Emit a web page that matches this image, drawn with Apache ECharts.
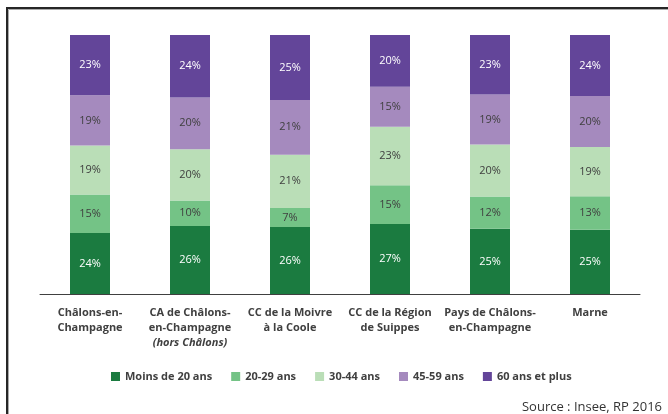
<!DOCTYPE html>
<html lang="fr">
<head>
    <meta charset="UTF-8">
    <title>Structure par âge</title>
    <style type="text/css">
        html, body { margin: 0; padding: 0; background: #fff; }
        #chart { width: 668px; height: 414px; }
    </style>
</head>
<body>
<div id="chart"></div>
<script src="https://cdn.jsdelivr.net/npm/echarts@6/dist/echarts.min.js"></script>
<script type="text/javascript">
    // territoires
    var territoires = ['Châlons-en-\nChampagne', 'CA de Châlons-\nen-Champagne\n{i|(hors Châlons)}', 'CC de la Moivre\nà la Coole',
        'CC de la Région\nde Suippes', 'Pays de Châlons-\nen-Champagne', 'Marne'];
    var tranches = ['Moins de 20 ans', '20-29 ans', '30-44 ans', '45-59 ans', '60 ans et plus'];
    var couleurs = ['#1b7b40', '#74c386', '#badeb7', '#a58abe', '#634599'];

    // parts en %
    var moins20 = [23.6, 26.3, 25.9, 27.0, 25.2, 24.8];
    var de20a29 = [14.8, 9.8, 7.3, 15.0, 12.4, 12.9];
    var de30a44 = [18.9, 19.8, 20.6, 22.6, 20.1, 19.1];
    var de45a59 = [19.4, 20.0, 21.1, 15.4, 19.3, 19.6];
    var plus60 = [23.3, 24.1, 25.1, 20.0, 23.0, 23.6];
    var valeurs = [moins20, de20a29, de30a44, de45a59, plus60];

    var chart = echarts.init(document.getElementById('chart'));

    var series = [];
    for (var i = 0; i < tranches.length; i++) {
        series.push({
            name: tranches[i],
            type: 'bar',
            stack: 'total',
            barWidth: 40,
            itemStyle: { color: couleurs[i] },
            label: {
                show: true,
                position: 'inside',
                fontFamily: 'Open Sans',
                fontSize: 11,
                color: (i === 0 || i === 4) ? '#ffffff' : '#404040',
                formatter: function (p) { return Math.round(p.value) + '%'; }
            },
            data: valeurs[i]
        });
    }

    chart.setOption({
        animation: false,
        grid: { left: 40, right: 28, top: 35, bottom: 120 },
        legend: {
            left: 106,
            top: 366,
            icon: 'rect',
            itemWidth: 9,
            itemHeight: 9,
            itemGap: 19,
            textStyle: { fontFamily: 'Open Sans', fontSize: 11, fontWeight: 'bold', color: '#404040' },
            data: tranches
        },
        xAxis: {
            type: 'category',
            data: territoires,
            axisLine: { lineStyle: { color: '#404040', width: 1 } },
            axisTick: { show: false },
            axisLabel: {
                interval: 0,
                margin: 11,
                fontFamily: 'Open Sans',
                fontSize: 11,
                fontWeight: 'bold',
                lineHeight: 15,
                color: '#404040',
                rich: {
                    i: { fontStyle: 'italic', fontWeight: 'bold', fontFamily: 'Open Sans', fontSize: 11, lineHeight: 16, color: '#404040' }
                }
            }
        },
        yAxis: {
            type: 'value',
            min: 0,
            max: 100,
            show: false
        },
        graphic: [
            { type: 'rect', shape: { x: 7, y: 8, width: 700, height: 500 }, style: { fill: 'none', stroke: '#262626', lineWidth: 2 } },
            { type: 'rect', shape: { x: 8.5, y: 9.5, width: 700, height: 500 }, style: { fill: 'none', stroke: '#aaaaaa', lineWidth: 1 } },
            { type: 'text', style: { text: 'Source : Insee, RP 2016', x: 662, y: 407, align: 'right', verticalAlign: 'middle', font: '13px "Open Sans"', fill: '#333333' } }
        ],
        series: series
    });
</script>
</body>
</html>
